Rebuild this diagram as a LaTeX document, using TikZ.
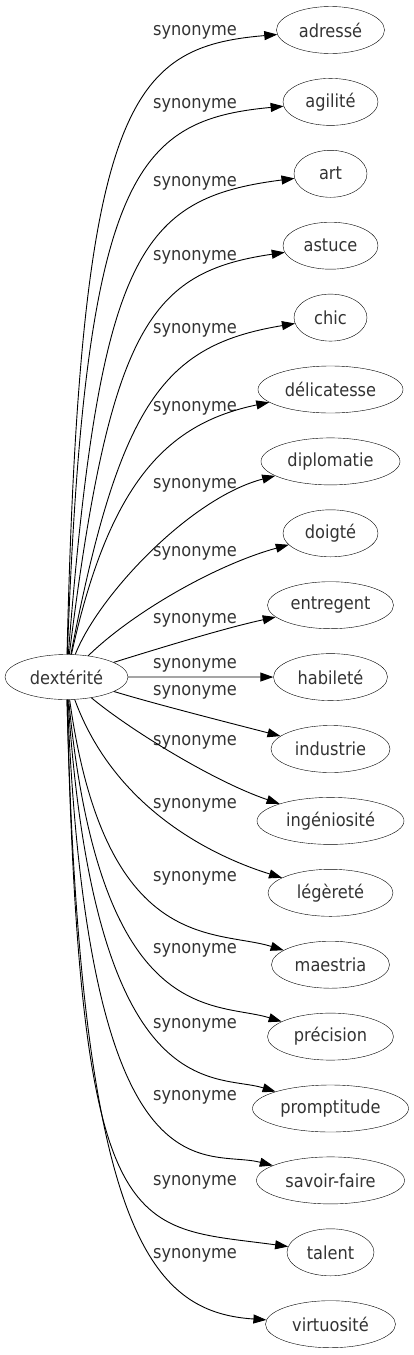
\documentclass[tikz,border=0pt]{standalone}
\usepackage{fontspec}
\setmainfont{DejaVu Sans}[FakeStretch=0.9]
\usetikzlibrary{arrows.meta, shapes.geometric}
\definecolor{TextGray}{rgb}{0.2, 0.2, 0.2}

\begin{document}
\begin{tikzpicture}[
    x=1pt, y=-1pt,
    font=\fontsize{18}{21}\selectfont,
    word/.style={draw, ellipse, inner sep=0pt, minimum height=47pt, text=TextGray},
    syn/.style={text=TextGray, inner sep=0pt},
    rel/.style={-{Triangle[length=13pt, width=9pt]}, line width=0.9pt},
]
\useasboundingbox (0,0) rectangle (414,1355);

% mot de départ
\node[word, minimum width=123, minimum height=45pt] (src) at (66.5,677) {dextérité};

% synonymes: mot/largeur/etiquette/controle 1/controle 2
\foreach \wrd/\w/\ly/\ax/\ay/\bx/\by [count=\i] in {%
    adressé/108/32/80/102/130/47,
    agilité/95/105/85/175/135/120,
    art/73/183/100/253/140/198,
    astuce/95/257/110/327/150/272,
    chic/73/330/120/400/165/345,
    délicatesse/145/408/110/478/170/423,
    diplomatie/139/485/98/596/190/498,
    doigté/95/553/132/613/215/565,
    entregent/126/620/160/648/225/628,
    habileté/114/665/150/677/230/677,
    industrie/119/692/155/704/230/723,
    ingéniosité/147/742/130/730/215/782,
    légèreté/125/805/115/810/215/857,
    maestria/118/878/105/955/215/929,
    précision/126/950/100/1030/215/1001,
    promptitude/156/1025/95/1110/215/1073,
    savoir-faire/148/1097/88/1210/205/1148,
    talent/87/1182/80/1250/130/1225,
    virtuosité/130/1255/80/1232/150/1312%
}{
    \pgfmathsetmacro{\ty}{30+71.9*(\i-1)}
    \node[word, minimum width=\w] (t\i) at (330.5,\ty) {\wrd};
    \node[syn] (l\i) at (195,\ly) {synonyme};
    \draw[rel] (src) .. controls (\ax,\ay) and (\bx,\by) .. (t\i);
}

\end{tikzpicture}
\end{document}
